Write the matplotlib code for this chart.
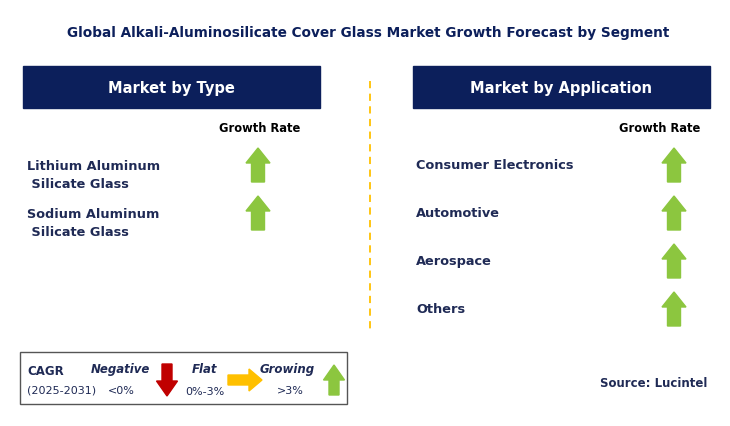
import matplotlib
matplotlib.use("Agg")
import matplotlib.pyplot as plt
from matplotlib.patches import Rectangle, Polygon

title = "Global Alkali-Aluminosilicate Cover Glass Market Growth Forecast by Segment"
type_segments = ["Lithium Aluminum\n Silicate Glass", "Sodium Aluminum\n Silicate Glass"]
type_trend = ["up", "up"]
app_segments = ["Consumer Electronics", "Automotive", "Aerospace", "Others"]
app_trend = ["up", "up", "up", "up"]

NAVY = "#0c1f5b"
TXT = "#1f2a55"
GREEN = "#8cc63f"
RED = "#c00000"
YEL = "#ffc000"

fig = plt.figure(figsize=(7.30, 4.27), dpi=100)
ax = fig.add_axes([0, 0, 1, 1])
ax.set_xlim(0, 730); ax.set_ylim(427, 0); ax.axis("off")

def up_arrow(cx, cy, h=34, w=13, hw=24, hh=15, color=GREEN):
    top = cy - h/2; bot = cy + h/2
    pts = [(cx-w/2, bot), (cx-w/2, top+hh), (cx-hw/2, top+hh), (cx, top),
           (cx+hw/2, top+hh), (cx+w/2, top+hh), (cx+w/2, bot)]
    ax.add_patch(Polygon(pts, closed=True, color=color))

def down_arrow(cx, cy, h=34, w=12, hw=24, hh=15, color=RED):
    top = cy - h/2; bot = cy + h/2
    pts = [(cx-w/2, top), (cx-w/2, bot-hh), (cx-hw/2, bot-hh), (cx, bot),
           (cx+hw/2, bot-hh), (cx+w/2, bot-hh), (cx+w/2, top)]
    ax.add_patch(Polygon(pts, closed=True, color=color))

def right_arrow(cx, cy, l=34, w=12, hw=24, hl=13, color=YEL):
    L = cx - l/2; R = cx + l/2
    pts = [(L, cy-w/2), (R-hl, cy-w/2), (R-hl, cy-hw/2), (R, cy),
           (R-hl, cy+hw/2), (R-hl, cy+w/2), (L, cy+w/2)]
    ax.add_patch(Polygon(pts, closed=True, color=color))

ax.text(368, 33, title, ha="center", va="center", fontsize=9.8, fontweight="bold", color=NAVY)

for x0, label in [(23, "Market by Type"), (413, "Market by Application")]:
    ax.add_patch(Rectangle((x0, 67), 297, 42, color=NAVY))
    ax.text(x0 + 148.5, 88, label, ha="center", va="center", fontsize=10.5, fontweight="bold", color="white")

ax.plot([370, 370], [82, 330], ls=(0, (4, 3)), color=YEL, lw=1.3)

ax.text(260, 128, "Growth Rate", ha="center", va="center", fontsize=8.3, fontweight="bold", color="black")
ax.text(660, 128, "Growth Rate", ha="center", va="center", fontsize=8.3, fontweight="bold", color="black")

for i, (s, t) in enumerate(zip(type_segments, type_trend)):
    y = 176 + 48*i
    ax.text(27, y, s, ha="left", va="center", fontsize=9.3, fontweight="bold", color=TXT, linespacing=1.5)
    up_arrow(258, y - 10)

for i, (s, t) in enumerate(zip(app_segments, app_trend)):
    y = 166 + 48*i
    ax.text(416, y, s, ha="left", va="center", fontsize=9.3, fontweight="bold", color=TXT)
    up_arrow(674, y)

ax.add_patch(Rectangle((20, 353), 327, 52, fill=False, ec="#555555", lw=1))
ax.text(27, 372, "CAGR", fontsize=8.5, fontweight="bold", color=TXT, va="center")
ax.text(27, 391, "(2025-2031)", fontsize=8, color=TXT, va="center")
ax.text(120, 370, "Negative", fontsize=8.5, fontweight="bold", style="italic", color=TXT, ha="center", va="center")
ax.text(121, 391, "<0%", fontsize=8, color=TXT, ha="center", va="center")
down_arrow(167, 381, h=32, w=10, hw=21)
ax.text(205, 370, "Flat", fontsize=8.5, fontweight="bold", style="italic", color=TXT, ha="center", va="center")
ax.text(205, 392, "0%-3%", fontsize=8, color=TXT, ha="center", va="center")
right_arrow(245, 381, l=34, w=10, hw=22)
ax.text(287, 370, "Growing", fontsize=8.5, fontweight="bold", style="italic", color=TXT, ha="center", va="center")
ax.text(290, 391, ">3%", fontsize=8, color=TXT, ha="center", va="center")
up_arrow(334, 381, h=30, w=10, hw=21)

ax.text(600, 384, "Source: Lucintel", fontsize=8.5, fontweight="bold", color=TXT, va="center")

fig.savefig("out.png", dpi=100)
